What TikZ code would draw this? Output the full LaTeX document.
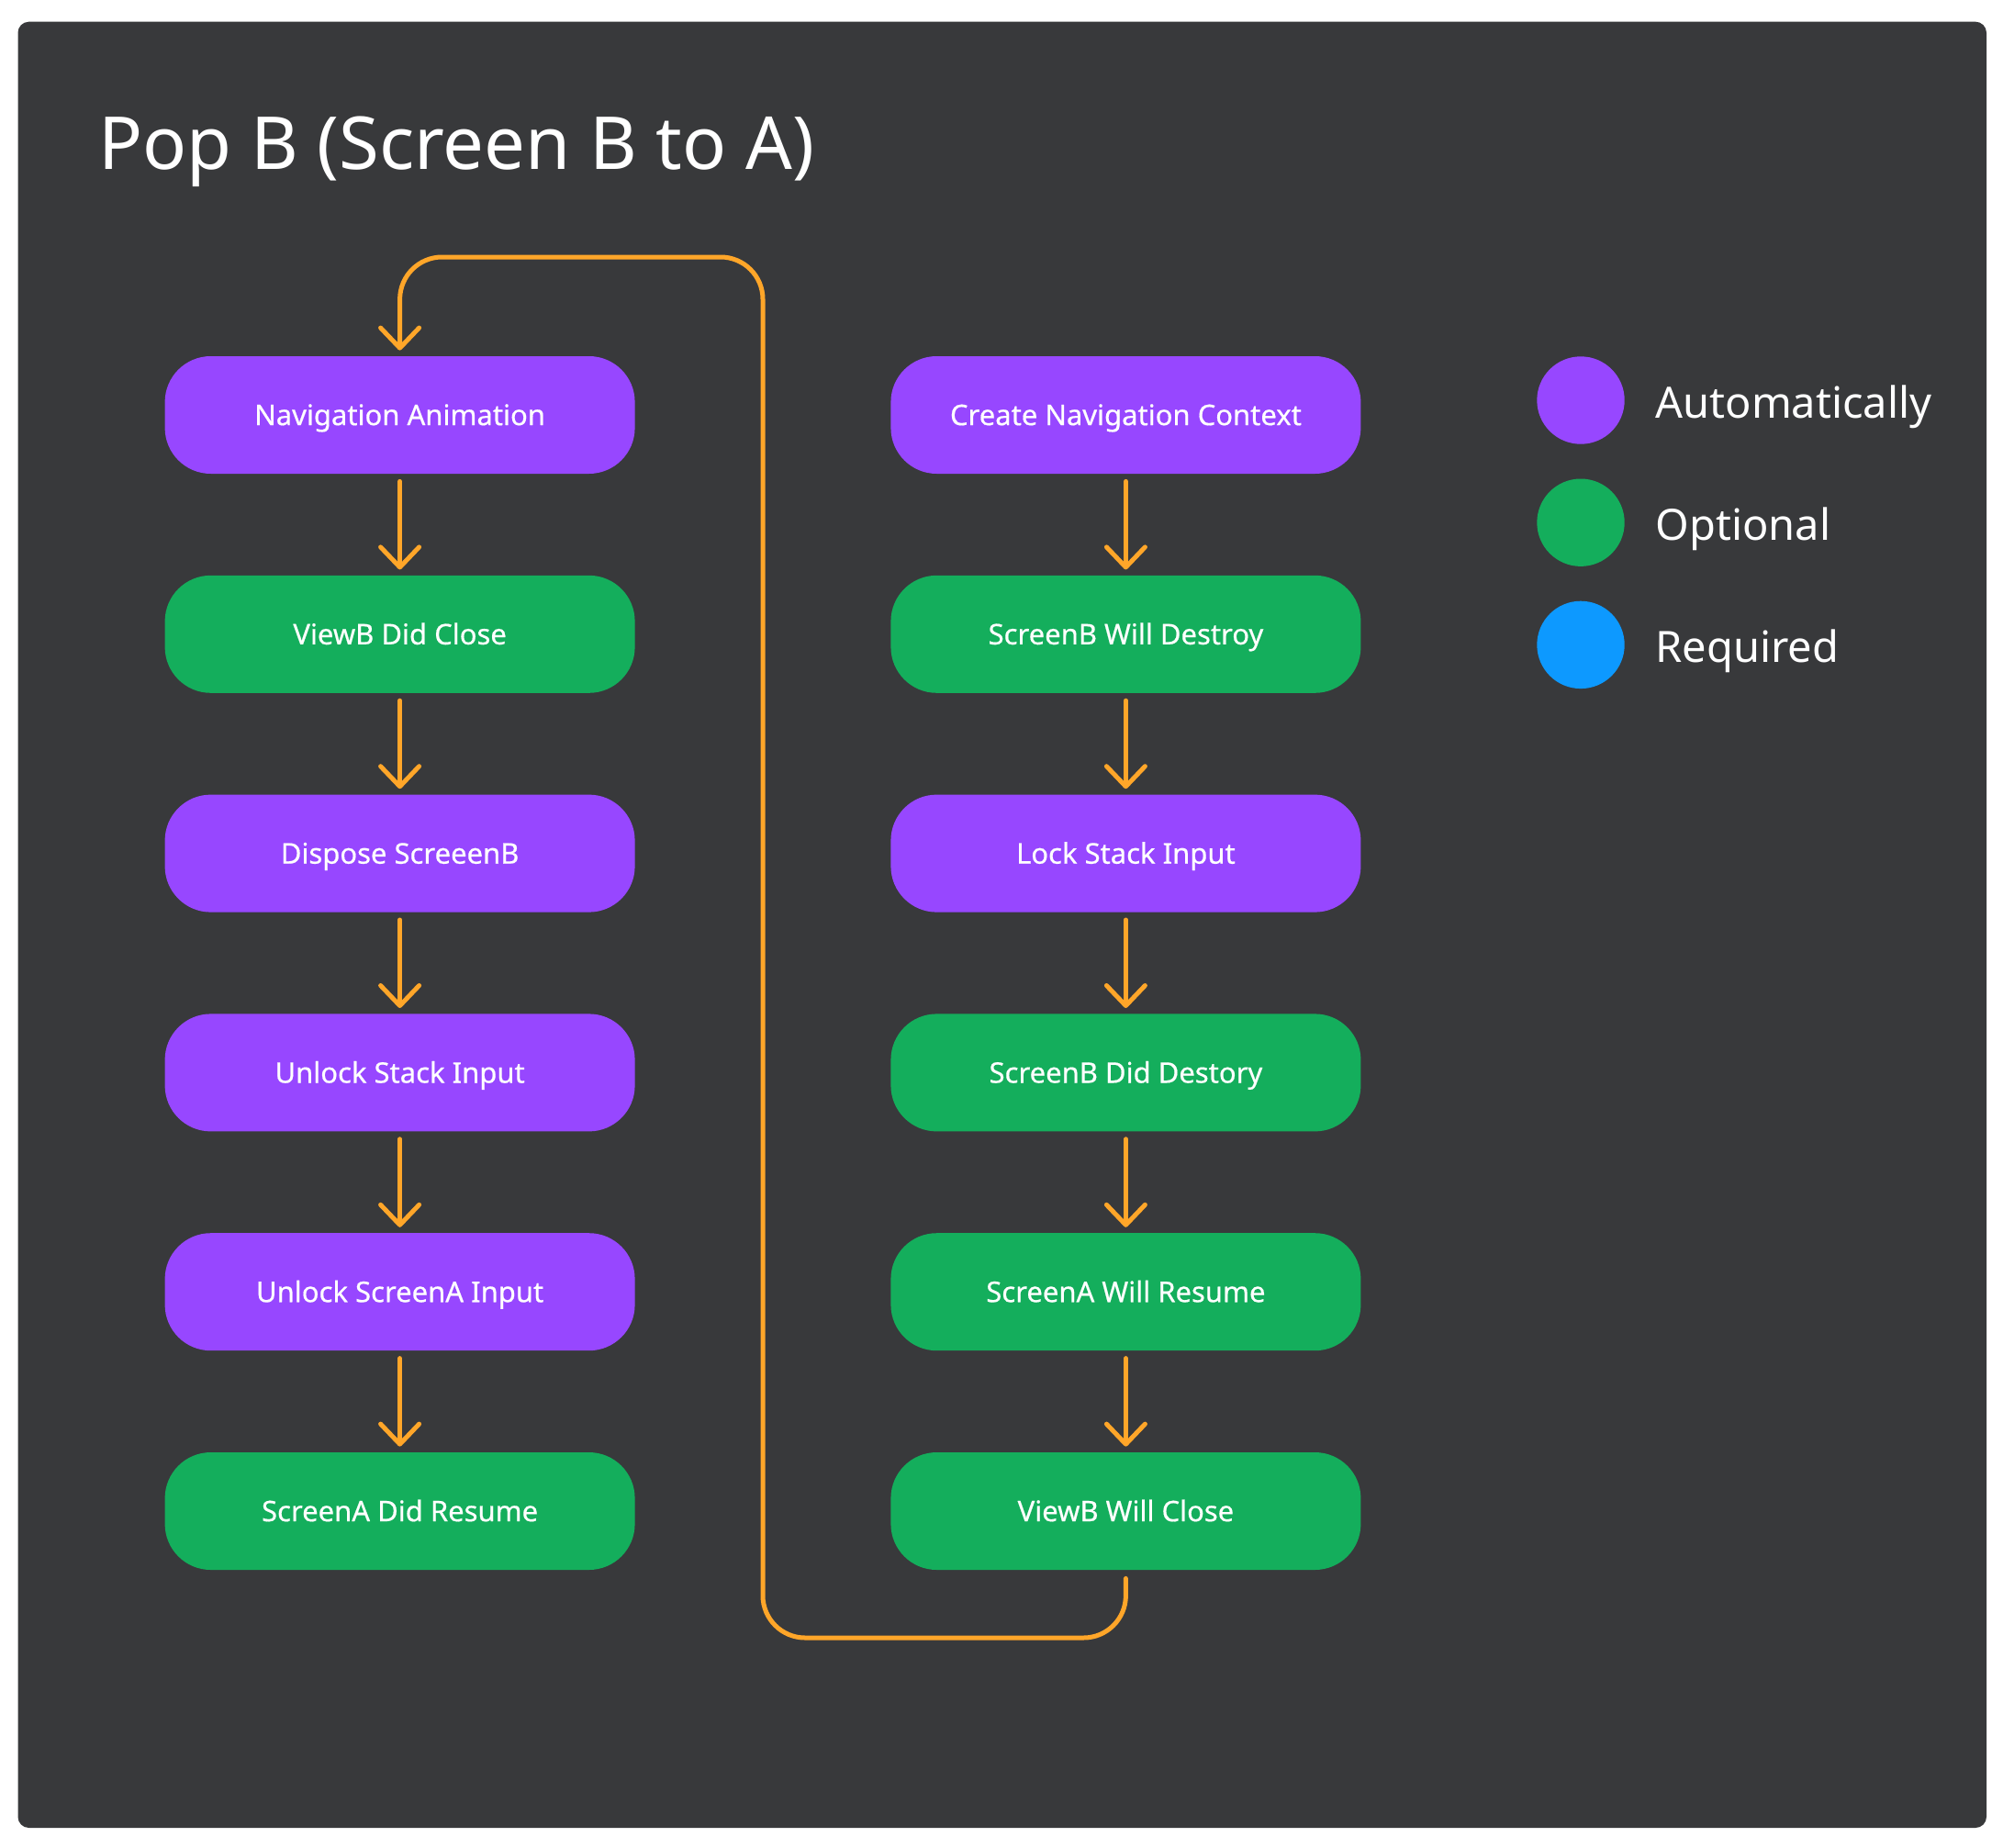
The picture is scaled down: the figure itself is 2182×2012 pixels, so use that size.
\documentclass[tikz,border=0pt]{standalone}
\usepackage{fontspec}
\setmainfont{Noto Sans}
\newfontfamily\popmedium[FakeBold=0.5]{Noto Sans}
\usetikzlibrary{positioning,arrows.meta}
\definecolor{panelGray}{HTML}{38393B}
\definecolor{autoPurple}{HTML}{9747FF}
\definecolor{optGreen}{HTML}{14AE5C}
\definecolor{reqBlue}{HTML}{0D99FF}
\definecolor{flowOrange}{HTML}{FFA629}
\newcommand{\popboxfont}{\popmedium\fontsize{15.5pt}{18pt}\selectfont}
\newcommand{\poplegfont}{\fontsize{23.5pt}{28pt}\selectfont}

\tikzset{
  popstep/.style={rectangle, rounded corners=25pt, minimum width=256pt, minimum height=64pt,
    inner sep=0pt, text=white, font=\popboxfont, text height=11.1pt, text depth=0pt},
  autostep/.style={popstep, fill=autoPurple},
  optstep/.style={popstep, fill=optGreen},
  legdot/.style={circle, minimum size=47.7pt, inner sep=0pt},
  legtext/.style={text=white, font=\poplegfont, inner sep=0pt, anchor=base west},
  flow/.style={draw=flowOrange, line width=2.5pt, line cap=round, line join=round,
    -{Straight Barb[length=11pt,width=21pt,line cap=round,line join=round]}},
  flowstep/.style={flow, shorten <=4pt, shorten >=3pt}
}

\begin{document}
\begin{tikzpicture}[x=0.5pt,y=-0.5pt,node distance=55pt]
%% background and panel
\fill[white] (0,0) rectangle (2182,2012);
\useasboundingbox (0,0) rectangle (2182,2012);
\fill[panelGray, rounded corners=6pt] (19.5,23.7) rectangle (2164,1991);
%title
\node[text=white, font=\fontsize{39.8pt}{46pt}\selectfont, inner sep=0pt, anchor=base west] (popTitle) at (107,185) {Pop B (Screen B to A)};
%the nodes, left column
\node [autostep] (popNavAnim) at (435.6,452) {Navigation Animation};
\node [optstep,below=of popNavAnim] (popViewDidClose) {ViewB Did Close};
\node [autostep,below=of popViewDidClose] (popDispose) {Dispose ScreeenB};
\node [autostep,below=of popDispose] (popUnlockStack) {Unlock Stack Input};
\node [autostep,below=of popUnlockStack] (popUnlockScreen) {Unlock ScreenA Input};
\node [optstep,below=of popUnlockScreen] (popDidResume) {ScreenA Did Resume};
%the nodes, right column
\node [autostep,right=139pt of popNavAnim] (popCreateCtx) {Create Navigation Context};
\node [optstep,below=of popCreateCtx] (popWillDestroy) {ScreenB Will Destroy};
\node [autostep,below=of popWillDestroy] (popLockStack) {Lock Stack Input};
\node [optstep,below=of popLockStack] (popDidDestroy) {ScreenB Did Destory};
\node [optstep,below=of popDidDestroy] (popWillResume) {ScreenA Will Resume};
\node [optstep,below=of popWillResume] (popViewWillClose) {ViewB Will Close};
%legend
\node [legdot, fill=autoPurple] (legAuto) at (1722,436) {};
\node [legdot, fill=optGreen, below=18.5pt of legAuto] (legOpt) {};
\node [legdot, fill=reqBlue, below=18.5pt of legOpt] (legReq) {};
\node [legtext] (legAutoText) at ([xshift=16.5pt,yshift=-9.5pt]legAuto.east) {Automatically};
\node [legtext] (legOptText) at ([xshift=16.5pt,yshift=-9.5pt]legOpt.east) {Optional};
\node [legtext] (legReqText) at ([xshift=16.5pt,yshift=-9.5pt]legReq.east) {Required};
%drawings of arrows
\draw[flowstep] (popCreateCtx.south) -- (popWillDestroy.north);
\draw[flowstep] (popWillDestroy.south) -- (popLockStack.north);
\draw[flowstep] (popLockStack.south) -- (popDidDestroy.north);
\draw[flowstep] (popDidDestroy.south) -- (popWillResume.north);
\draw[flowstep] (popWillResume.south) -- (popViewWillClose.north);

\coordinate (loopBottom) at (831,1784);
\coordinate (loopTop) at (831,280);
\draw[flow, rounded corners=23pt] ([yshift=-4.5pt]popViewWillClose.south) |- (loopBottom) -- (loopTop) -| ([yshift=3pt]popNavAnim.north);

\draw[flowstep] (popNavAnim.south) -- (popViewDidClose.north);
\draw[flowstep] (popViewDidClose.south) -- (popDispose.north);
\draw[flowstep] (popDispose.south) -- (popUnlockStack.north);
\draw[flowstep] (popUnlockStack.south) -- (popUnlockScreen.north);
\draw[flowstep] (popUnlockScreen.south) -- (popDidResume.north);
\end{tikzpicture}
\end{document}
